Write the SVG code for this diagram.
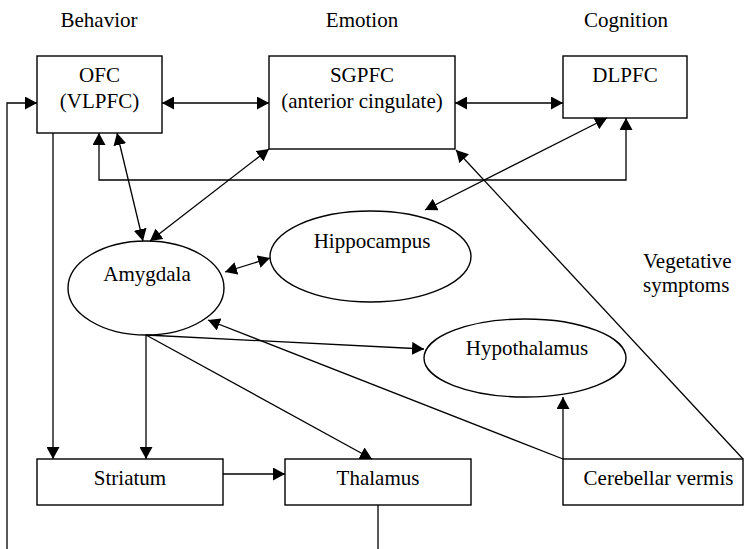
<svg xmlns="http://www.w3.org/2000/svg" width="744" height="549" viewBox="0 0 744 549">
<defs>
<marker id="ah" markerUnits="userSpaceOnUse" markerWidth="13" markerHeight="13" refX="12" refY="6.5" orient="auto-start-reverse" viewBox="0 0 13 13">
<path d="M0,0 L12,6.5 L0,13 z" fill="#000"/>
</marker>
<style>
text{font-family:"Liberation Serif","Times New Roman",serif;font-size:21px;fill:#000;text-anchor:middle}
.node rect,.node ellipse{fill:#fff;stroke:#000;stroke-width:1.4}
#connectors line,#connectors path{stroke:#000;stroke-width:1.3;fill:none}
.one{marker-end:url(#ah)}
.two{marker-start:url(#ah);marker-end:url(#ah)}
</style>
</defs>
<rect width="744" height="549" fill="#fff"/>
<g id="headers">
<text x="99" y="27">Behavior</text>
<text x="362" y="27">Emotion</text>
<text x="626" y="27">Cognition</text>
</g>
<g id="ofc" class="node"><rect x="37" y="56" width="125" height="77"/><text x="99.5" y="82">OFC</text><text x="99.5" y="108">(VLPFC)</text></g>
<g id="sgpfc" class="node"><rect x="269" y="56" width="186" height="93"/><text x="362" y="82">SGPFC</text><text x="362" y="108">(anterior cingulate)</text></g>
<g id="dlpfc" class="node"><rect x="563" y="56" width="124" height="62"/><text x="625" y="82">DLPFC</text></g>
<g id="hippocampus" class="node"><ellipse cx="370.5" cy="256.5" rx="100.5" ry="45.5"/><text x="372" y="248">Hippocampus</text></g>
<g id="amygdala" class="node"><ellipse cx="146" cy="288" rx="78" ry="47"/><text x="147" y="281">Amygdala</text></g>
<g id="hypothalamus" class="node"><ellipse cx="525" cy="358" rx="101" ry="39"/><text x="527" y="355">Hypothalamus</text></g>
<g id="vegetative"><text x="643" y="268" style="text-anchor:start">Vegetative</text><text x="643" y="292" style="text-anchor:start">symptoms</text></g>
<g id="striatum" class="node"><rect x="37" y="459" width="186" height="46"/><text x="130" y="485">Striatum</text></g>
<g id="thalamus" class="node"><rect x="285" y="459" width="186" height="46"/><text x="378" y="485">Thalamus</text></g>
<g id="cerebellar" class="node"><rect x="563" y="459" width="180" height="46"/><text x="658.5" y="485">Cerebellar vermis</text></g>
<g id="connectors">
<line class="two" x1="162" y1="103" x2="269" y2="103"/>
<line class="two" x1="455" y1="103" x2="563" y2="103"/>
<path class="two" d="M99,133 V180 H626 V118"/>
<line class="two" x1="117" y1="133" x2="143" y2="241"/>
<line class="two" x1="269" y1="149" x2="150" y2="241"/>
<line class="two" x1="607" y1="118" x2="425" y2="210"/>
<line class="one" x1="743" y1="459" x2="456" y2="150"/>
<line class="one" x1="563" y1="459" x2="208" y2="320"/>
<line class="one" x1="563" y1="459" x2="563" y2="397"/>
<line class="two" x1="225" y1="272" x2="270" y2="258"/>
<line class="one" x1="146" y1="335" x2="424" y2="349"/>
<line class="one" x1="146" y1="335" x2="146" y2="459"/>
<line class="one" x1="146" y1="335" x2="372" y2="459"/>
<line class="one" x1="53" y1="133" x2="53" y2="459"/>
<line class="one" x1="223" y1="474" x2="285" y2="474"/>
<path class="one" d="M378,505 V553 H7 V103 H37"/>
</g>
</svg>
